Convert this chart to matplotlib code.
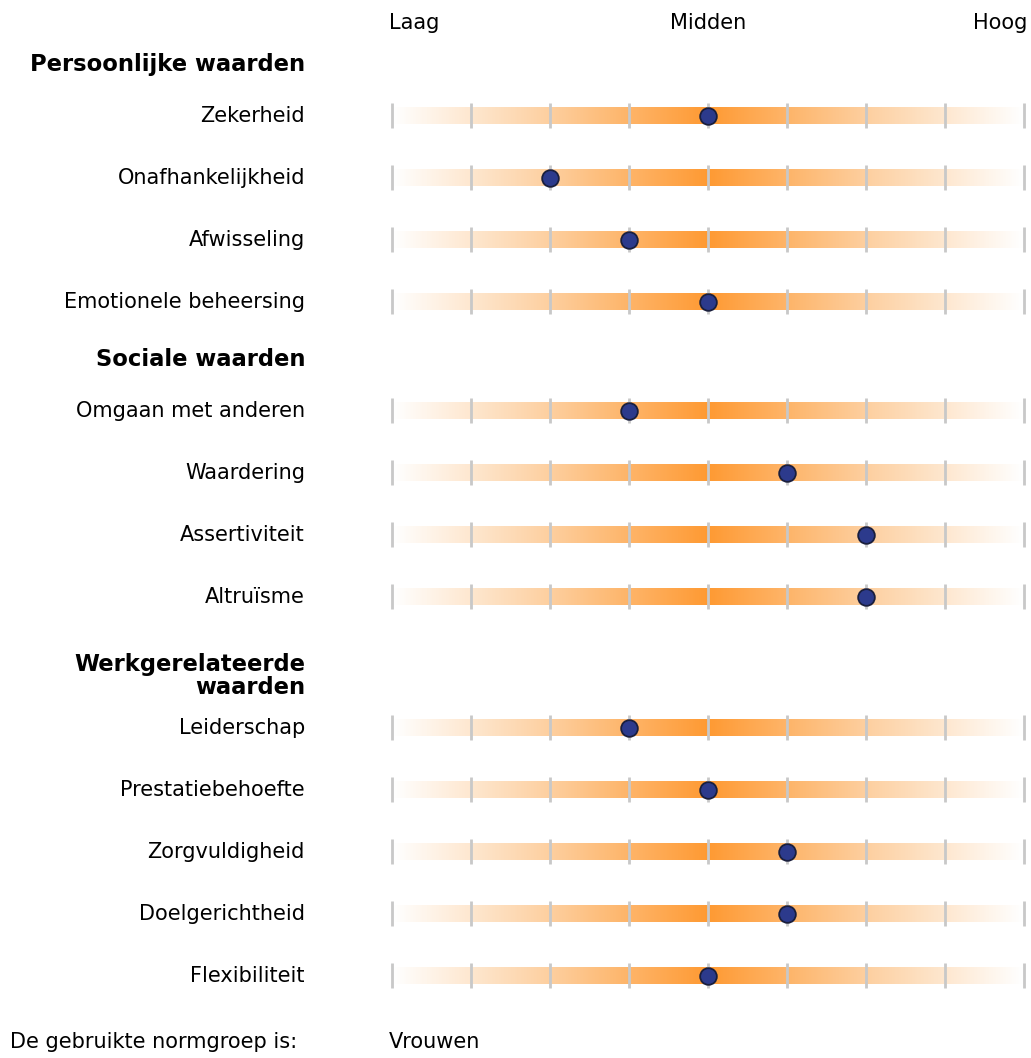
import numpy as np
import matplotlib.pyplot as plt
from matplotlib.colors import LinearSegmentedColormap

# groups of values, scores on a 1-9 scale
groups = ["Persoonlijke waarden", "Sociale waarden", "Werkgerelateerde\nwaarden"]
labels = [
    ["Zekerheid", "Onafhankelijkheid", "Afwisseling", "Emotionele beheersing"],
    ["Omgaan met anderen", "Waardering", "Assertiviteit", "Altruïsme"],
    ["Leiderschap", "Prestatiebehoefte", "Zorgvuldigheid", "Doelgerichtheid", "Flexibiliteit"],
]
scores = [
    [5, 3, 4, 5],
    [4, 6, 7, 7],
    [4, 5, 6, 6, 5],
]
scale_labels = ["Laag", "Midden", "Hoog"]
scale_min, scale_max = 1, 9
normgroep = "Vrouwen"

W, H = 1031, 1058
fig = plt.figure(figsize=(W / 100, H / 100), dpi=100)
ax = fig.add_axes([0, 0, 1, 1])
# x in score units: 1 -> 392 px, 9 -> 1024 px
px = (1024 - 392) / (scale_max - scale_min)
ax.set_xlim(scale_min - 392 / px, scale_max + (W - 1024) / px)
ax.set_ylim(H, 0)
ax.axis('off')

fs = 15
lab_x = 305 / W  # right edge of label column (axes fraction)
yt = ax.get_yaxis_transform()

cmap = LinearSegmentedColormap.from_list('or', ['#ffffff', '#fdcf9f', '#ff9a33'])
grad = 1 - np.abs(np.linspace(scale_min, scale_max, 400) - 5) / 4
grad = grad[None, :]

ax.text(scale_min - 3 / px, 23, scale_labels[0], fontsize=fs, ha='left', va='center')
ax.text((scale_min + scale_max) / 2, 23, scale_labels[1], fontsize=fs, ha='center', va='center')
ax.text(scale_max + 3 / px, 23, scale_labels[2], fontsize=fs, ha='right', va='center')

prev = 7
for g, names, vals in zip(groups, labels, scores):
    n = g.count("\n") + 1
    y0 = prev + 57 + 11 * (n - 1)
    for k, line in enumerate(g.split("\n")):
        ax.text(lab_x, y0 + 23 * k, line, transform=yt,
                fontsize=16.3, fontweight='bold', ha='right', va='center')
    y = y0 + 23 * (n - 1) + 52 - 12 * (n - 1)
    for name, v in zip(names, vals):
        ax.text(lab_x, y, name, transform=yt, fontsize=fs, ha='right', va='center')
        ax.imshow(grad, cmap=cmap, aspect='auto', vmin=0, vmax=1,
                  extent=(scale_min, scale_max, y + 8.5, y - 8.5), zorder=1)
        ax.vlines(np.arange(scale_min, scale_max + 1), y - 13, y + 12,
                  color='#c8c8c8', lw=2, zorder=2)
        ax.plot(v, y, 'o', ms=12, mfc='#2c3a8c', mec='#1a1f3d', mew=1.3, zorder=3)
        prev = y
        y += 62

ax.text(10 / W, 1042, "De gebruikte normgroep is:", transform=yt,
        fontsize=fs, ha='left', va='center')
ax.text(scale_min - 3 / px, 1042, normgroep, fontsize=fs, ha='left', va='center')

ax.set_xlim(scale_min - 392 / px, scale_max + (W - 1024) / px)
ax.set_ylim(H, 0)
fig.savefig('out.png', dpi=100)
